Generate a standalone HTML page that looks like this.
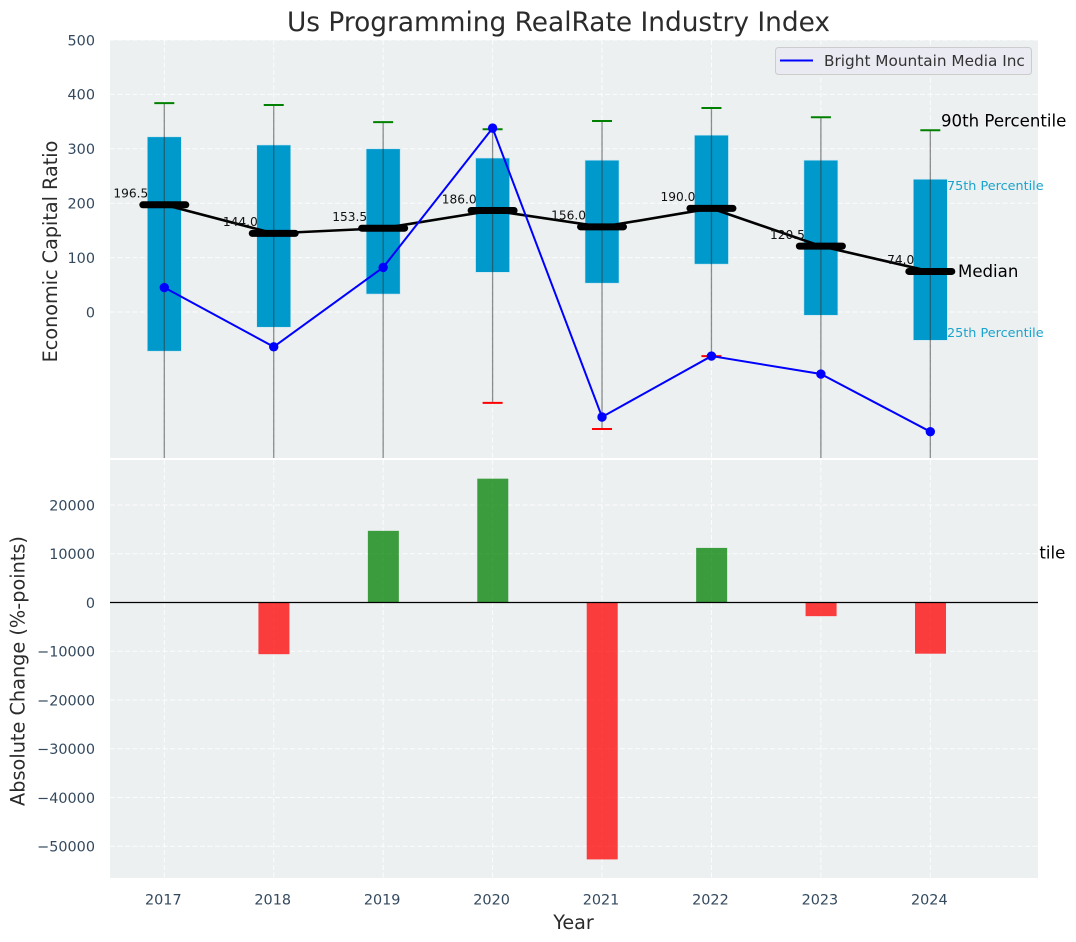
<!DOCTYPE html>
<html>
<head>
<meta charset="utf-8">
<title>Us Programming RealRate Industry Index</title>
<style>
html,body{margin:0;padding:0;background:#fff;}
svg{display:block;font-family:"DejaVu Sans","Liberation Sans",sans-serif;}
</style>
</head>
<body>
<svg id="chart" xmlns="http://www.w3.org/2000/svg" width="1076" height="942" viewBox="0 0 1076 942">
  <defs>
    <clipPath id="top-clip"><rect x="110" y="40" width="928" height="418"></rect></clipPath>
    <clipPath id="bottom-clip"><rect x="110" y="460" width="928" height="418"></rect></clipPath>
  </defs>
  <rect x="0" y="0" width="1076" height="942" fill="#ffffff"></rect>
  <text x="558.5" y="31" font-size="26.4" fill="#2b2b2b" text-anchor="middle">Us Programming RealRate Industry Index</text>
  <rect x="110" y="40" width="928" height="418" fill="#ecf0f1"></rect>
  <g id="top-grid"></g>
  <g id="top-marks" clip-path="url(#top-clip)"></g>
  <g id="top-labels"></g>
  <rect x="110" y="460" width="928" height="418" fill="#ecf0f1"></rect>
  <g id="bottom-grid"></g>
  <g id="bottom-marks" clip-path="url(#bottom-clip)"></g>
  <g id="axis-ticks"></g>
  <text transform="translate(57,251.5) rotate(-90)" font-size="19.2" fill="#2b2b2b" text-anchor="middle">Economic Capital Ratio</text>
  <text transform="translate(24.5,671) rotate(-90)" font-size="19.3" fill="#2b2b2b" text-anchor="middle">Absolute Change (%-points)</text>
  <text x="573.5" y="929" font-size="19.2" fill="#2b2b2b" text-anchor="middle">Year</text>
  <g>
    <rect x="775.5" y="47.5" width="256" height="27" rx="3" fill="#eaeaf2" stroke="#cccccc" stroke-width="1"></rect>
    <line x1="780" y1="60.5" x2="813" y2="60.5" stroke="#0000ff" stroke-width="2"></line>
    <text x="824" y="66" font-size="15.3" fill="#333333">Bright Mountain Media Inc</text>
  </g>
</svg>
<script>
const years = [2017, 2018, 2019, 2020, 2021, 2022, 2023, 2024];
const p90 = [384, 380.5, 349, 336, 351, 375, 358, 334];
const p75 = [322, 307, 300, 283, 279, 325, 279, 244];
const median = [196.5, 144.0, 153.5, 186.0, 156.0, 190.0, 120.5, 74.0];
const p25 = [-72, -28, 33, 73, 53, 88, -6, -52];
const p10 = [-420, -400, -410, -167, -215, -81, -380, -443];
const company = [45, -64, 82, 338, -193, -81, -114, -220];
const absoluteChange = [null, -10600, 14700, 25400, -52700, 11200, -2800, -10500];
const topTicks = [0, 100, 200, 300, 400, 500];
const bottomTicks = [20000, 10000, 0, -10000, -20000, -30000, -40000, -50000];

const NS = 'http://www.w3.org/2000/svg';
function xPos(i) { return 164.3 + i * 109.43; }
function yTop(v) { return 312 - v * 0.544; }
function yBottom(v) { return 602.5 - v * 0.004875; }
function tickText(v) { return String(v).replace('-', '\u2212'); }

function make(parent, tag, props, content) {
  const el = document.createElementNS(NS, tag);
  Object.keys(props).forEach(function (k) { el.setAttribute(k, props[k]); });
  if (content !== undefined) el.textContent = content;
  parent.appendChild(el);
  return el;
}

const topGrid = document.getElementById('top-grid');
const topMarks = document.getElementById('top-marks');
const topLabels = document.getElementById('top-labels');
const bottomGrid = document.getElementById('bottom-grid');
const bottomMarks = document.getElementById('bottom-marks');
const axisTicks = document.getElementById('axis-ticks');
const gridStyle = { stroke: '#ffffff', 'stroke-width': 1, 'stroke-opacity': 0.85, 'stroke-dasharray': '5 2.5' };
const tickColor = '#34495e';

topTicks.forEach(function (t) {
  const line = make(topGrid, 'line', Object.assign({ x1: 110, x2: 1038, y1: yTop(t), y2: yTop(t) }, gridStyle));
  
  
  const label = make(axisTicks, 'text', { x: 95, y: yTop(t) + 5.3, 'font-size': 14.4, fill: tickColor, 'text-anchor': 'end' }, tickText(t));
  
  
});

bottomTicks.forEach(function (t) {
  const line = make(bottomGrid, 'line', Object.assign({ x1: 110, x2: 1038, y1: yBottom(t), y2: yBottom(t) }, gridStyle));
  
  
  const label = make(axisTicks, 'text', { x: 95, y: yBottom(t) + 5.3, 'font-size': 14.4, fill: tickColor, 'text-anchor': 'end' }, tickText(t));
  
  
});

years.forEach(function (year, i) {
  const x = xPos(i);
  const topLine = make(topGrid, 'line', Object.assign({ x1: x, x2: x, y1: 40, y2: 458 }, gridStyle));
  
  
  const bottomLine = make(bottomGrid, 'line', Object.assign({ x1: x, x2: x, y1: 460, y2: 878 }, gridStyle));
  
  
  const label = make(axisTicks, 'text', { x: x - 1, y: 904.5, 'font-size': 14.4, fill: tickColor, 'text-anchor': 'middle' }, year);
  
  
});

years.forEach(function (year, i) {
  const x = xPos(i);
  const box = make(topMarks, 'rect', { x: x - 17, y: yTop(p75[i]), width: 34, height: yTop(p25[i]) - yTop(p75[i]), fill: '#0099cc', stroke: '#c5e6f1', 'stroke-width': 0.6 });
  
  
});

years.forEach(function (year, i) {
  const x = xPos(i);
  const whisker = make(topMarks, 'line', { x1: x, x2: x, y1: yTop(p90[i]), y2: yTop(p10[i]), stroke: '#333333', 'stroke-opacity': 0.55, 'stroke-width': 1.3 });
  
  
  const capHigh = make(topMarks, 'line', { x1: x - 10, x2: x + 10, y1: yTop(p90[i]), y2: yTop(p90[i]), stroke: '#008000', 'stroke-width': 2 });
  
  
  const capLow = make(topMarks, 'line', { x1: x - 10, x2: x + 10, y1: yTop(p10[i]), y2: yTop(p10[i]), stroke: '#ff0000', 'stroke-width': 2 });
  
  
});

const medianPoints = median.map(function (v, i) { return xPos(i) + ',' + (yTop(v) - 0.3); }).join(' ');
const medianTrend = make(topMarks, 'polyline', { points: medianPoints, fill: 'none', stroke: '#000000', 'stroke-width': 2.6 });



years.forEach(function (year, i) {
  const x = xPos(i);
  const bar = make(topMarks, 'line', { x1: x - 21.5, x2: x + 21.5, y1: yTop(median[i]) - 0.3, y2: yTop(median[i]) - 0.3, stroke: '#000000', 'stroke-width': 7, 'stroke-linecap': 'round' });
  
  
  const label = make(topLabels, 'text', { x: x - 16, y: yTop(median[i]) - 7.5, 'font-size': 12.2, fill: '#111111', 'text-anchor': 'end' }, median[i].toFixed(1));
  
  
});

const companyPoints = company.map(function (v, i) { return xPos(i) + ',' + yTop(v); }).join(' ');
const companyLine = make(topMarks, 'polyline', { points: companyPoints, fill: 'none', stroke: '#0000ff', 'stroke-width': 2 });


company.forEach(function (v, i) {
  const dot = make(topMarks, 'circle', { cx: xPos(i), cy: yTop(v), r: 4.7, fill: '#0000ff' });
  
  
});

const last = years.length - 1;
const labelP90 = make(topLabels, 'text', { x: 941, y: yTop(p90[last]) - 3.6, 'font-size': 16.6, fill: '#000000' }, '90th Percentile');


const labelP75 = make(topLabels, 'text', { x: 947, y: yTop(p75[last]) + 10.7, 'font-size': 12.8, fill: '#1aa3cc' }, '75th Percentile');


const labelMedian = make(topLabels, 'text', { x: 958, y: yTop(median[last]) + 5.3, 'font-size': 16.6, fill: '#000000' }, 'Median');


const labelP25 = make(topLabels, 'text', { x: 947, y: yTop(p25[last]) - 3.3, 'font-size': 12.8, fill: '#1aa3cc' }, '25th Percentile');


const labelP10 = make(topLabels, 'text', { x: 940, y: yTop(p10[last]) + 5.5, 'font-size': 16.6, fill: '#000000' }, '10th Percentile');



absoluteChange.forEach(function (v, i) {
  if (v === null) return;
  const top = Math.min(yBottom(v), yBottom(0));
  const bar = make(bottomMarks, 'rect', { x: xPos(i) - 15.3, y: top, width: 31, height: Math.abs(yBottom(v) - yBottom(0)), fill: v >= 0 ? '#008000' : '#ff0000', 'fill-opacity': 0.75 });
  
  
});
const zeroLine = make(bottomMarks, 'line', { x1: 110, x2: 1038, y1: yBottom(0), y2: yBottom(0), stroke: '#000000', 'stroke-width': 1.2 });


</script>
</body>
</html>
